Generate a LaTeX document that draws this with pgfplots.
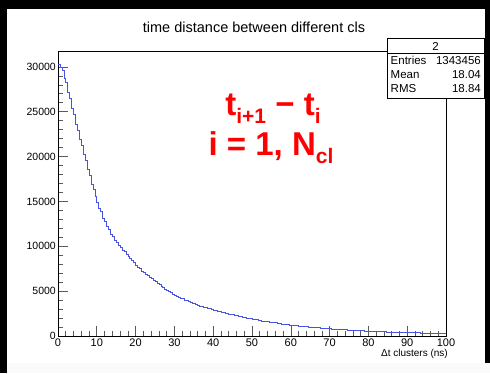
\documentclass[border=0pt]{standalone}
\usepackage{pgfplots}
\pgfplotsset{compat=1.18}
\usepackage{pgfplotstable}
\usepackage{fontspec}
\setmainfont{Liberation Sans}
\definecolor{histblue}{rgb}{0.28,0.33,0.88}
\pgfplotstableread{
t v
0.0 30310
0.5 29920
1.0 29580
1.5 28700
2.0 28230
2.5 27120
3.0 26480
3.5 25350
4.0 24710
4.5 23620
5.0 22980
5.5 21920
6.0 21310
6.5 20240
7.0 19580
7.5 18610
8.0 17890
8.5 16930
9.0 16380
9.5 15540
10.0 14960
10.5 14230
11.0 13870
11.5 13140
12.0 12760
12.5 12190
13.0 11860
13.5 11350
14.0 11060
14.5 10640
15.0 10450
15.5 10060
16.0 9900
16.5 9550
17.0 9400
17.5 9070
18.0 8920
18.5 8610
19.0 8460
19.5 8170
20.0 7930
20.5 7660
21.0 7520
21.5 7250
22.0 7130
22.5 6880
23.0 6760
23.5 6520
24.0 6410
24.5 6180
25.0 6080
25.5 5850
26.0 5740
26.5 5530
27.0 5420
27.5 5220
28.0 5130
28.5 4930
29.0 4840
29.5 4660
30.0 4570
30.5 4420
31.0 4360
31.5 4210
32.0 4160
32.5 4010
33.0 3960
33.5 3830
34.0 3780
34.5 3640
35.0 3600
35.5 3490
36.0 3450
36.5 3340
37.0 3310
37.5 3200
38.0 3170
38.5 3070
39.0 3040
39.5 2950
40.0 2920
40.5 2820
41.0 2800
41.5 2700
42.0 2690
42.5 2590
43.0 2570
43.5 2490
44.0 2470
44.5 2380
45.0 2370
45.5 2280
46.0 2270
46.5 2190
47.0 2180
47.5 2100
48.0 2090
48.5 2010
49.0 2000
49.5 1930
50.0 1910
50.5 1850
51.0 1830
51.5 1770
52.0 1760
52.5 1690
53.0 1680
53.5 1630
54.0 1610
54.5 1550
55.0 1540
55.5 1490
56.0 1475
56.5 1420
57.0 1410
57.5 1360
58.0 1350
58.5 1300
59.0 1290
59.5 1240
60.0 1230
60.5 1190
61.0 1180
61.5 1140
62.0 1130
62.5 1090
63.0 1085
63.5 1050
64.0 1040
64.5 1000
65.0 995
65.5 965
66.0 955
66.5 925
67.0 920
67.5 890
68.0 880
68.5 855
69.0 845
69.5 820
70.0 815
70.5 790
71.0 785
71.5 760
72.0 755
72.5 730
73.0 727
73.5 704
74.0 700
74.5 678
75.0 674
75.5 653
76.0 648
76.5 628
77.0 624
77.5 603
78.0 600
78.5 580
79.0 577
79.5 558
80.0 554
80.5 537
81.0 534
81.5 518
82.0 515
82.5 500
83.0 497
83.5 482
84.0 480
84.5 465
85.0 463
85.5 449
86.0 448
86.5 434
87.0 433
87.5 420
88.0 419
88.5 406
89.0 405
89.5 393
90.0 392
90.5 381
91.0 380
91.5 370
92.0 369
92.5 359
93.0 358
93.5 348
94.0 347
94.5 337
95.0 337
95.5 327
96.0 327
96.5 317
97.0 317
97.5 308
98.0 308
98.5 299
99.0 300
99.5 291
100.0 291
}\histdata
\begin{document}
\begin{tikzpicture}[x=1pt,y=1pt]
% frame / background
\fill[black] (0,0) rectangle (490,373);
\fill[white] (7,0) rectangle (485,364);
\fill[gray!4] (7,0) rectangle (490,10);
\begin{axis}[
  at={(58pt,37pt)}, anchor=south west,
  scale only axis, width=388pt, height=285pt,
  xmin=0, xmax=100, ymin=0, ymax=31770,
  axis line style={black, line width=0.6pt},
  xtick={0,10,...,100}, ytick={0,5000,...,30000},
  minor x tick num=4, minor y tick num=4,
  xtick pos=bottom, ytick pos=left,
  tick align=inside,
  major tick length=10pt, minor tick length=5pt,
  every tick/.style={black!65, line width=0.6pt},
  scaled y ticks=false,
  /pgf/number format/1000 sep={},
  /pgf/number format/assume math mode=true,
  xticklabel style={font=\fontsize{11}{12}\selectfont, inner sep=2.5pt},
  yticklabel style={font=\fontsize{10.5}{12}\selectfont, inner sep=2pt},
  xlabel={Δt clusters (ns)},
  xlabel style={font=\fontsize{10}{12}\selectfont, at={(axis description cs:1,0)}, anchor=north east, inner sep=0pt, yshift=-13pt, xshift=2pt},
]
\addplot[const plot, histblue, line width=0.6pt, mark=none] table[x=t, y=v] {\histdata};
\end{axis}
% title
\node[anchor=base, inner sep=0pt, font=\fontsize{14.5}{16}\selectfont] at (254,340) {time distance between different cls};
% stats box
\draw[black, line width=0.6pt, fill=white] (387,275) rectangle (484,335);
\draw[black, line width=0.6pt] (387,319.5) -- (484,319.5);
\node[anchor=base, inner sep=0pt, font=\fontsize{11.5}{13}\selectfont] at (435.5,322.5) {2};
\node[anchor=base west, inner sep=0pt, font=\fontsize{11.5}{13}\selectfont] at (390.5,308.5) {Entries};
\node[anchor=base east, inner sep=0pt, font=\fontsize{11.5}{13}\selectfont] at (481,308.5) {1343456};
\node[anchor=base west, inner sep=0pt, font=\fontsize{11.5}{13}\selectfont] at (390.5,294.5) {Mean};
\node[anchor=base east, inner sep=0pt, font=\fontsize{11.5}{13}\selectfont] at (481,294.5) {18.04};
\node[anchor=base west, inner sep=0pt, font=\fontsize{11.5}{13}\selectfont] at (390.5,280.5) {RMS};
\node[anchor=base east, inner sep=0pt, font=\fontsize{11.5}{13}\selectfont] at (481,280.5) {18.84};
% red annotation
\node[anchor=base, inner sep=0pt, text=red, font=\bfseries\fontsize{33}{36}\selectfont] at (273,258)
  {t{\fontsize{21}{22}\selectfont\raisebox{-8pt}{i+1}} − t{\fontsize{21}{22}\selectfont\raisebox{-8pt}{i}}};
\node[anchor=base, inner sep=0pt, text=red, font=\bfseries\fontsize{33}{36}\selectfont] at (271,218)
  {i = 1, N{\fontsize{21}{22}\selectfont\raisebox{-8pt}{cl}}};
\pgfresetboundingbox
\path (0,0) rectangle (490,373);
\end{tikzpicture}
\end{document}
